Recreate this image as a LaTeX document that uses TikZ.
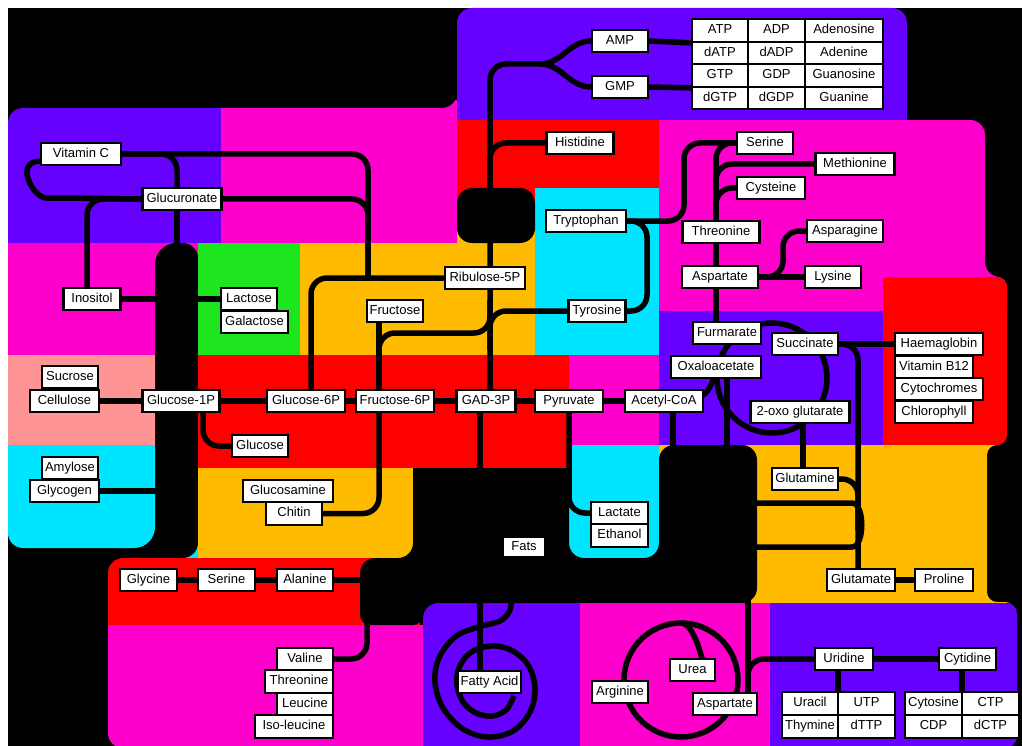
\documentclass[tikz,border=0pt]{standalone}
\usepackage{fontspec}
\setmainfont{Liberation Sans}
\definecolor{cpur}{HTML}{6600FF}
\definecolor{cmag}{HTML}{FF00CC}
\definecolor{cred}{HTML}{FF0000}
\definecolor{cora}{HTML}{FFBB00}
\definecolor{ccya}{HTML}{00E5FF}
\definecolor{cgre}{HTML}{1EE61E}
\definecolor{csal}{HTML}{FF9494}
\pgfdeclarelayer{bgl}
\pgfdeclarelayer{lnl}
\pgfsetlayers{bgl,lnl,main}
\tikzset{
  box/.style={draw=black, fill=white, line width=2.2pt, inner sep=0pt,
    minimum height=22.5pt, text height=9.4pt, text depth=2.6pt,
    font=\fontsize{13}{15}\selectfont},
  conn/.style={draw=black, line width=5.5pt, rounded corners=16pt},
  ring/.style={draw=black, line width=5.5pt},
}
\begin{document}
\begin{tikzpicture}[x=1pt,y=-1pt]
\useasboundingbox (0,0) rectangle (1022,746);
% ---------------- nodes ----------------
\node[box,minimum width=56pt] (amp) at (620,41) {AMP};
\node[box,minimum width=56pt] (gmp) at (620,87) {GMP};
\node[box,minimum width=56pt] (atp) at (720,30.5) {ATP};
\node[box,minimum width=57pt] (adp) at (776.5,30.5) {ADP};
\node[box,minimum width=78pt] (adenosine) at (844,30.5) {Adenosine};
\node[box,minimum width=56pt] (datp) at (720,53) {dATP};
\node[box,minimum width=57pt] (dadp) at (776.5,53) {dADP};
\node[box,minimum width=78pt] (adenine) at (844,53) {Adenine};
\node[box,minimum width=56pt] (gtp) at (720,75.5) {GTP};
\node[box,minimum width=57pt] (gdp) at (776.5,75.5) {GDP};
\node[box,minimum width=78pt] (guanosine) at (844,75.5) {Guanosine};
\node[box,minimum width=56pt] (dgtp) at (720,98) {dGTP};
\node[box,minimum width=57pt] (dgdp) at (776.5,98) {dGDP};
\node[box,minimum width=78pt] (guanine) at (844,98) {Guanine};
\node[box,minimum width=67pt] (histidine) at (580,143) {Histidine};
\node[box,minimum width=56pt] (serineT) at (765,143) {Serine};
\node[box,minimum width=79pt] (methionine) at (855,164) {Methionine};
\node[box,minimum width=68pt] (cysteine) at (771,188) {Cysteine};
\node[box,minimum width=80pt] (tryptophan) at (586,221) {Tryptophan};
\node[box,minimum width=77pt] (threonineT) at (721,232) {Threonine};
\node[box,minimum width=76pt] (asparagine) at (845,231) {Asparagine};
\node[box,minimum width=76pt] (aspartateT) at (720,277) {Aspartate};
\node[box,minimum width=56pt] (lysine) at (833,277) {Lysine};
\node[box,minimum width=80pt] (ribulose) at (485,278) {Ribulose-5P};
\node[box,minimum width=56pt] (fructose) at (395,311) {Fructose};
\node[box,minimum width=57pt] (tyrosine) at (597,311) {Tyrosine};
\node[box,minimum width=68pt] (furmarate) at (727,333) {Furmarate};
\node[box,minimum width=90pt] (oxaloacetate) at (716,367) {Oxaloacetate};
\node[box,minimum width=66pt] (succinate) at (805,344) {Succinate};
\node[box,minimum width=88pt] (haemaglobin) at (939,344) {Haemaglobin};
\node[box,minimum width=78pt] (vitb) at (934,367) {Vitamin B12};
\node[box,minimum width=88pt] (cytochromes) at (939,389) {Cytochromes};
\node[box,minimum width=78pt] (chlorophyll) at (934,412) {Chlorophyll};
\node[box,minimum width=99pt] (oxoglut) at (800,412) {2-oxo glutarate};
\node[box,minimum width=66pt] (glutamine) at (805,479) {Glutamine};
\node[box,minimum width=68pt] (glutamate) at (861,580) {Glutamate};
\node[box,minimum width=58pt] (proline) at (944,580) {Proline};
\node[box,minimum width=80pt] (vitc) at (81,154) {Vitamin C};
\node[box,minimum width=79pt] (glucuronate) at (182,199) {Glucuronate};
\node[box,minimum width=57pt] (inositol) at (92,299) {Inositol};
\node[box,minimum width=56pt] (lactose) at (249,299) {Lactose};
\node[box,minimum width=67pt] (galactose) at (254.5,322) {Galactose};
\node[box,minimum width=56pt] (sucrose) at (70,377) {Sucrose};
\node[box,minimum width=69pt] (cellulose) at (64.5,401) {Cellulose};
\node[box,minimum width=77pt] (glucose1p) at (181,401) {Glucose-1P};
\node[box,minimum width=56pt] (glucose) at (260,446) {Glucose};
\node[box,minimum width=78pt] (glucose6p) at (306,401) {Glucose-6P};
\node[box,minimum width=78pt] (fructose6p) at (395,401) {Fructose-6P};
\node[box,minimum width=59pt] (gad3p) at (486,401) {GAD-3P};
\node[box,minimum width=68pt] (pyruvate) at (569,401) {Pyruvate};
\node[box,minimum width=78pt] (acetylcoa) at (664,401) {Acetyl-CoA};
\node[box,minimum width=56pt] (amylose) at (70,468) {Amylose};
\node[box,minimum width=69pt] (glycogen) at (64.5,491) {Glycogen};
\node[box,minimum width=90pt] (glucosamine) at (288,491) {Glucosamine};
\node[box,minimum width=56pt] (chitin) at (294,513.5) {Chitin};
\node[box,minimum width=42pt,minimum height=20pt] (fats) at (524,547) {Fats};
\node[box,minimum width=57pt] (lactate) at (619.5,513) {Lactate};
\node[box,minimum width=57pt] (ethanol) at (619.5,535.5) {Ethanol};
\node[box,minimum width=57pt] (glycine) at (148.5,580) {Glycine};
\node[box,minimum width=57pt] (serineB) at (226.5,580) {Serine};
\node[box,minimum width=56pt] (alanine) at (305,580) {Alanine};
\node[box,minimum width=56pt] (valine) at (305,659) {Valine};
\node[box,minimum width=68pt] (threonineB) at (299,681.5) {Threonine};
\node[box,minimum width=56pt] (leucine) at (305,704) {Leucine};
\node[box,minimum width=78pt] (isoleucine) at (294,726.5) {Iso-leucine};
\node[box,minimum width=63pt] (fattyacid) at (489.5,682) {Fatty Acid};
\node[box,minimum width=56pt] (arginine) at (620,692) {Arginine};
\node[box,minimum width=45pt] (urea) at (692.5,670) {Urea};
\node[box,minimum width=64pt] (aspartateB) at (725,704) {Aspartate};
\node[box,minimum width=58pt] (uridine) at (844,659) {Uridine};
\node[box,minimum width=57pt] (cytidine) at (967.5,659) {Cytidine};
\node[box,minimum width=56pt] (uracil) at (810,703.5) {Uracil};
\node[box,minimum width=57pt] (utp) at (866.5,703.5) {UTP};
\node[box,minimum width=56pt] (thymine) at (810,726.5) {Thymine};
\node[box,minimum width=57pt] (dttp) at (866.5,726.5) {dTTP};
\node[box,minimum width=57pt] (cytosine) at (933.5,703.5) {Cytosine};
\node[box,minimum width=57pt] (ctp) at (990.5,703.5) {CTP};
\node[box,minimum width=57pt] (cdp) at (933.5,726.5) {CDP};
\node[box,minimum width=57pt] (dctp) at (990.5,726.5) {dCTP};
% ---------------- background ----------------
\begin{pgfonlayer}{bgl}
\fill[white] (0,0) rectangle (1022,746);
\fill[black] (8,8) rectangle (1022,746);
\begin{scope}
\clip (8,108) [rounded corners=15pt] -- (457,108) -- (457,8) -- (907,8) -- (907,120)
  -- (985,120) -- (985,277) [rounded corners=10pt] -- (1007,277) -- (1007,445)
  -- (987,445) -- (987,602) [rounded corners=12pt] -- (1017,602) -- (1017,748)
  [rounded corners=15pt] -- (108,748) -- (108,558) -- (198,558) -- (198,243)
  [rounded corners=21pt] -- (155,243) -- (155,548) [rounded corners=15pt] -- (8,548) -- cycle;
\fill[cpur] (457,0) rectangle (907,120);
\fill[cpur] (0,100) rectangle (221,243);
\fill[cmag] (221,100) rectangle (457,243);
\fill[cred] (457,120) rectangle (659,215);
\fill[cmag] (659,120) rectangle (1022,311);
\fill[cora] (300,243) rectangle (535,355);
\fill[cora] (457,215) rectangle (535,243);
\fill[ccya] (535,188) rectangle (659,355);
\fill[cmag] (0,243) rectangle (198,355);
\fill[cgre] (198,243) rectangle (300,355);
\fill[csal] (0,355) rectangle (198,445);
\fill[ccya] (0,445) rectangle (198,558);
\fill[cred] (198,355) rectangle (569,468);
\fill[cmag] (569,355) rectangle (659,445);
\fill[cpur] (659,311) rectangle (883,445);
\fill[cred] (883,277) rectangle (1022,445);
\fill[ccya] (569,445) rectangle (659,558);
\fill[cora] (198,468) rectangle (413,558);
\fill[cora] (659,445) rectangle (1022,603);
\fill[cred] (100,558) rectangle (420,625);
\fill[cmag] (100,625) rectangle (423,750);
\fill[cpur] (423,603) rectangle (580,750);
\fill[cmag] (580,603) rectangle (770,750);
\fill[cpur] (770,603) rectangle (1022,750);
\end{scope}
\fill[black, rounded corners=15pt] (457,188) rectangle (535,243);
\fill[black] (413,468) [rounded corners=15pt] -- (569,468) -- (569,558) -- (659,558)
  -- (659,445) -- (757,445) -- (757,603) -- (423,603) [rounded corners=10pt] -- (423,625)
  -- (360,625) [rounded corners=15pt] -- (360,558) -- (413,558) -- cycle;
\end{pgfonlayer}
% ---------------- connectors ----------------
\begin{pgfonlayer}{lnl}
\coordinate (barI) at (165,299);
\coordinate (barL) at (190,299);
\coordinate (barG) at (165,491);
\coordinate (barT) at (177,250);
\coordinate (blobA) at (480,475);
\coordinate (blobB) at (673,455);
\coordinate (blobC) at (727,455);
\coordinate (blobD) at (748,598);
\coordinate (blobE) at (370,580);
\coordinate (blobF) at (367,615);
\coordinate (blobG) at (480,600);
\coordinate (blobH) at (490,200);
\coordinate (blobS) at (511,598);
\draw[conn] (vitc.east) -| (368,278);
\draw[conn] (glucuronate.east) -| (368,278);
\draw[conn] (vitc.east) -| (177,190);
\draw[conn] (41,161) to[out=180,in=180,looseness=1.7] (62,198) -- (glucuronate.west);
\draw[conn] (glucuronate.west) -| (87,290);
\draw[conn] (177,205) -- (barT);
\draw[conn] (inositol.east) -- (barI);
\draw[conn] (barL) -- (lactose.west);
\draw[conn] (cellulose.east) -- (glucose1p.west);
\draw[conn] (glycogen.east) -- (barG);
\draw[conn] (glucose1p.east) -- (acetylcoa.west);
\draw[conn] (203,401) |- (glucose.west);
\draw[conn] (311,401) |- (ribulose.west);
\draw[conn] (490,401) -- (490,64) -- (548,64);
\draw[conn] (540,64) to[out=0,in=180] (amp.west);
\draw[conn] (540,64) to[out=0,in=180] (gmp.west);
\draw[conn] (amp.east) -- (atp.south west);
\draw[conn] (gmp.east) -- (gtp.south west);
\draw[conn] (blobH) -- (490,180) |- (histidine.west);
\draw[conn] (379,380) |- (490,333) -- (490,300);
\draw[conn] (379,401) -- (379,311);
\draw[conn] (379,401) |- (chitin.east);
\draw[conn] (480,401) -- (blobA);
\draw[conn] (569,401) |- (lactate.west);
\draw[conn] (tyrosine.west) -| (490,350);
\draw[conn] (tryptophan.east) -| (647,311) -- (tyrosine.east);
\draw[conn] (tryptophan.east) -- (684,221) -- (684,143) -- (serineT.west);
\draw[conn] (serineT.west) -| (716,333);
\draw[conn] (716,190) |- (methionine.west);
\draw[conn] (716,215) |- (cysteine.west);
\draw[conn] (aspartateT.east) -- (lysine.west);
\draw[conn] (asparagine.west) -| (783,277) -- (765,277);
\draw[ring] (772,378) circle (55pt);
\draw[conn] (700,396) to[out=0,in=90] (717,375);
\draw[conn] (673,401) -- (blobB);
\draw[conn] (727,367) -- (blobC);
\draw[conn] (803,412) -- (803,479);
\draw[conn] (succinate.east) -- (haemaglobin.west);
\draw[conn] (succinate.east) -| (858,575);
\draw[conn] (glutamine.east) -| (858,530);
\draw[conn] (750,503) -- (836,503) .. controls (865,503) and (865,547) .. (836,547) -- (750,547);
\draw[conn] (glutamate.east) -- (proline.west);
\draw[conn] (blobD) -- (748,703);
\draw[conn] (uridine.west) -| (748,703);
\draw[conn] (uridine.east) -- (cytidine.west);
\draw[conn] (838,659) -- (838,695);
\draw[conn] (962,659) -- (962,695);
\draw[ring] (681,680) circle (57pt);
\draw[conn] (703,670) -- (703,648) to[out=270,in=0] (681,623);
\draw[conn] (blobG) -- (480,682);
\draw[ring] plot[smooth,tension=0.6] coordinates {(blobS) (510,610) (500,621) (478,627) (455,637) (439,658) (435,682) (443,708) (463,729) (488,737) (513,731) (530,712) (535,688) (528,665) (511,650) (490,646) (470,653) (459,668) (457,685) (463,702) (476,713) (492,716) (506,710) (514,696)};
\draw[conn] (blobF) |- (valine.east);
\draw[conn] (glycine.east) -- (serineB.west);
\draw[conn] (serineB.east) -- (alanine.west);
\draw[conn] (alanine.east) -- (blobE);
\end{pgfonlayer}
\end{tikzpicture}
\end{document}
